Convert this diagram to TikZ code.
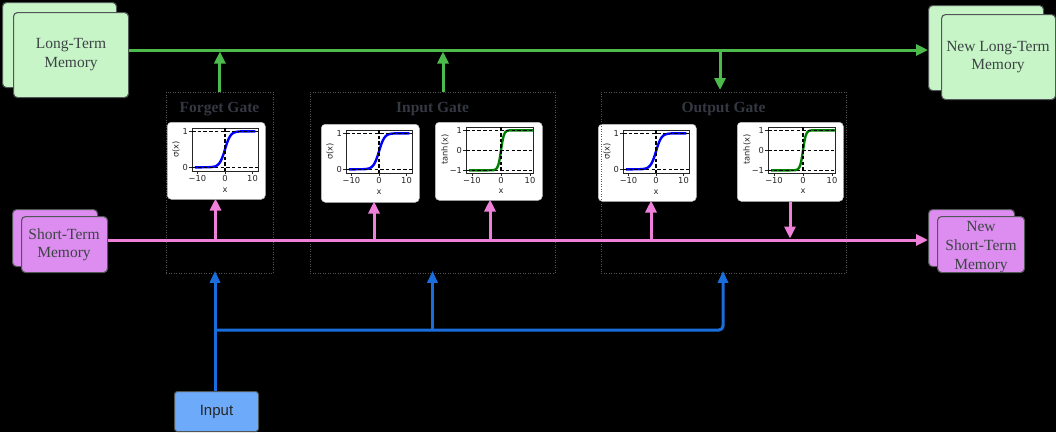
\documentclass[tikz,border=0pt]{standalone}
\usepackage{fontspec}
\setmainfont{Liberation Serif}
\newfontfamily\plotfont{DejaVu Sans}
\newfontfamily\inpfont{Liberation Sans}
\usetikzlibrary{arrows.meta,calc}

\definecolor{ltgreen}{RGB}{199,245,200}
\definecolor{grline}{RGB}{76,187,76}
\definecolor{pkline}{RGB}{238,128,218}
\definecolor{violetfill}{RGB}{221,141,240}
\definecolor{blline}{RGB}{25,110,220}
\definecolor{inpfill}{RGB}{110,170,250}
\definecolor{boxedge}{RGB}{80,85,85}
\definecolor{memtext}{RGB}{60,68,68}
\definecolor{gatetext}{RGB}{52,56,66}
\definecolor{gateedge}{RGB}{85,85,85}
\definecolor{curvegreen}{RGB}{0,128,0}
\definecolor{curveblue}{RGB}{0,0,255}

\tikzset{
  membox/.style={draw=boxedge, line width=1.1pt, rounded corners=4pt, align=center,
    text=memtext, font=\fontsize{15.5}{18.5}\selectfont, inner sep=0pt, anchor=north west},
  memtxt/.style={align=center, text=memtext, inner sep=0pt},
  gatebox/.style={draw=gateedge, line width=0.8pt, dash pattern=on 1pt off 1.5pt,
    inner sep=0pt, anchor=north west},
  gatetitle/.style={text=gatetext, font=\bfseries\fontsize{15.5}{18}\selectfont, inner sep=0pt},
  panel/.style={fill=white, draw=black!25, line width=0.5pt, rounded corners=4pt,
    inner sep=0pt, anchor=north west},
  axisline/.style={draw=black!85, line width=0.7pt},
  dashln/.style={draw=black, line width=1.1pt, dash pattern=on 3.5pt off 2.2pt},
  ticklab/.style={font=\plotfont\fontsize{8.3}{9}\selectfont, inner sep=0.3pt, text=black!85},
  grarrow/.style={draw=grline, line width=3pt, -{Triangle[length=12pt,width=11pt]}},
  pkarrow/.style={draw=pkline, line width=3pt, -{Triangle[length=12pt,width=11pt]}},
  blarrow/.style={draw=blline, line width=3pt, -{Triangle[length=12pt,width=10pt]}},
  inpbox/.style={draw=boxedge, line width=1pt, rounded corners=3pt, fill=inpfill,
    font=\inpfont\fontsize{15}{17}\selectfont, text=black!85, inner sep=0pt, anchor=north west},
}

% sigmoid panel contents: #1 panel node name
\newcommand{\sigplot}[1]{%
  \begin{scope}[shift={(#1.north west)}]
    \draw[axisline] (25,6) rectangle (91,49.3);
    \draw[curveblue, line width=2.4pt, line join=round]
      plot[smooth, domain=-11:11, samples=61]
      ({58+2.75*\x},{45.3-36*(0.5+sign(\x)*(0.5-exp(-abs(\x))/(1+exp(-abs(\x)))))});
    \draw[dashln] (25,9.3) -- (91,9.3) (25,45.3) -- (91,45.3) (58,6) -- (58,49.3);
    \draw[axisline] (30.5,49.3) -- (30.5,52.3) (58,49.3) -- (58,52.3) (85.5,49.3) -- (85.5,52.3)
      (25,9.3) -- (22,9.3) (25,45.3) -- (22,45.3);
    \node[ticklab, anchor=north] (#1xa) at (30.5,53) {−10};
    \node[ticklab, anchor=north] (#1xb) at (58,53) {0};
    \node[ticklab, anchor=north] (#1xc) at (85.5,53) {10};
    \node[ticklab, anchor=east] (#1ya) at (21.5,9.3) {1};
    \node[ticklab, anchor=east] (#1yb) at (21.5,45.3) {0};
    \node[ticklab] (#1xl) at (58,68) {x};
    \node[ticklab, rotate=90] (#1yl) at (9,27.5) {σ(x)};
  \end{scope}}

% tanh panel contents
\newcommand{\tanhplot}[1]{%
  \begin{scope}[shift={(#1.north west)}]
    \draw[axisline] (31,5.3) rectangle (98.4,51);
    \draw[curvegreen, line width=2.4pt, line join=round]
      plot[smooth, domain=-11:11, samples=61]
      ({66+2.9*\x},{28.3-20*sign(\x)*(1-exp(-2*abs(\x)))/(1+exp(-2*abs(\x)))});
    \draw[dashln] (31,8.3) -- (98.4,8.3) (31,28.3) -- (98.4,28.3) (31,48.3) -- (98.4,48.3)
      (66,5.3) -- (66,51);
    \draw[axisline] (37,51) -- (37,54) (66,51) -- (66,54) (95,51) -- (95,54)
      (31,8.3) -- (28,8.3) (31,28.3) -- (28,28.3) (31,48.3) -- (28,48.3);
    \node[ticklab, anchor=north] (#1xa) at (37,54.7) {−10};
    \node[ticklab, anchor=north] (#1xb) at (66,54.7) {0};
    \node[ticklab, anchor=north] (#1xc) at (95,54.7) {10};
    \node[ticklab, anchor=east] (#1ya) at (27.5,8.3) {1};
    \node[ticklab, anchor=east] (#1yb) at (27.5,28.3) {0};
    \node[ticklab, anchor=east] (#1yc) at (27.5,48.3) {−1};
    \node[ticklab] (#1xl) at (66,69) {x};
    \node[ticklab, rotate=90] (#1yl) at (10,27.7) {tanh(x)};
  \end{scope}}

\begin{document}
\begin{tikzpicture}[x=1pt,y=-1pt]
  \fill[black] (0,0) rectangle (1056,432);
  \useasboundingbox (0,0) rectangle (1056,432);

  % memory boxes
  \node[membox, fill=ltgreen, minimum width=114pt, minimum height=85pt] (ltmb) at (2,2) {};
  \node[membox, fill=ltgreen, minimum width=115pt, minimum height=85pt] (ltm) at (13,12) {};
  \node[memtxt, font=\fontsize{15.5}{18.5}\selectfont] (ltmt) at (71,54.5) {Long-Term\\Memory};
  \node[membox, fill=ltgreen, minimum width=115pt, minimum height=85pt] (nltmb) at (928,5) {};
  \node[membox, fill=ltgreen, minimum width=114pt, minimum height=85pt] (nltm) at (941,14) {};
  \node[memtxt, font=\fontsize{15.5}{18.5}\selectfont] (nltmt) at (998,57) {New Long-Term\\Memory};

  \node[membox, fill=violetfill, minimum width=85pt, minimum height=57pt] (stmb) at (12,209) {};
  \node[membox, fill=violetfill, minimum width=86pt, minimum height=56pt] (stm) at (21,216) {};
  \node[memtxt, font=\fontsize{15.5}{18.5}\selectfont] (stmt) at (64,245) {Short-Term\\Memory};
  \node[membox, fill=violetfill, minimum width=86pt, minimum height=57pt] (nstmb) at (928,209) {};
  \node[membox, fill=violetfill, minimum width=87pt, minimum height=56pt] (nstm) at (937,216) {};
  \node[memtxt, font=\fontsize{15.5}{19}\selectfont] (nstmt) at (981,247.5) {New\\Short-Term\\Memory};

  % plot panels
  \node[panel, minimum width=98pt, minimum height=77pt] (fsig) at (167,122) {};
  \node[panel, minimum width=98pt, minimum height=78pt] (isig) at (321,124) {};
  \node[panel, minimum width=107pt, minimum height=78pt] (itanh) at (435,122) {};
  \node[panel, minimum width=98pt, minimum height=77pt] (osig) at (598,124) {};
  \node[panel, minimum width=106pt, minimum height=79pt] (otanh) at (737,122) {};
  \sigplot{fsig}
  \sigplot{isig}
  \tanhplot{itanh}
  \sigplot{osig}
  \tanhplot{otanh}

  % gate boxes
  \node[gatebox, minimum width=107pt, minimum height=181pt] (fgate) at (166,92) {};
  \node[gatebox, minimum width=245pt, minimum height=181pt] (igate) at (310,92) {};
  \node[gatebox, minimum width=245pt, minimum height=181pt] (ogate) at (601,92) {};
  \node[gatetitle] (ftitle) at (219.5,109.5) {Forget Gate};
  \node[gatetitle] (ititle) at (432.5,109.5) {Input Gate};
  \node[gatetitle] (otitle) at (723.5,109.5) {Output Gate};

  % input box
  \node[inpbox, minimum width=84pt, minimum height=40pt] (inp) at (174,391) {Input};

  % long-term (green) connectors
  \coordinate (g0) at (129,50);
  \coordinate (gi) at (443,92);
  \coordinate (go) at (720,50);
  \draw[grarrow] (ltm.east |- g0) -- (nltmb.west |- g0);
  \draw[grarrow, shorten >=1.5pt] (fgate.north) -- (fgate.north |- g0);
  \draw[grarrow, shorten >=1.5pt] (gi) -- (gi |- g0);
  \draw[grarrow, shorten >=2pt] (go) -- (go |- ogate.north);

  % short-term (pink) connectors
  \coordinate (p0) at (107,240);
  \coordinate (pf) at (215.5,240);
  \coordinate (pi1) at (374,240);
  \coordinate (pi2) at (490,240);
  \coordinate (po1) at (651,240);
  \coordinate (po2) at (790,240);
  \draw[pkarrow] (stm.east |- p0) -- (nstmb.west |- p0);
  \draw[pkarrow, shorten >=-1pt] (pf) -- (pf |- fsig.south);
  \draw[pkarrow, shorten >=-1pt] (pi1) -- (pi1 |- isig.south);
  \draw[pkarrow, shorten >=-1pt] (pi2) -- (pi2 |- itanh.south);
  \draw[pkarrow, shorten >=-1pt] (po1) -- (po1 |- osig.south);
  \draw[pkarrow, shorten >=1.5pt] (po2 |- otanh.south) -- (po2);

  % input (blue) connectors
  \coordinate (b1) at (215,330);
  \coordinate (b2) at (432.5,330);
  \coordinate (b3) at (723,330);
  \draw[blarrow, shorten >=-3pt] (inp.north -| b1) -- (b1 |- fgate.south);
  \draw[blarrow, shorten >=-3pt] (b2) -- (b2 |- igate.south);
  \draw[blarrow, shorten >=-3pt, rounded corners=4pt] (b1) -- (b3) -- (b3 |- ogate.south);
\end{tikzpicture}
\end{document}
